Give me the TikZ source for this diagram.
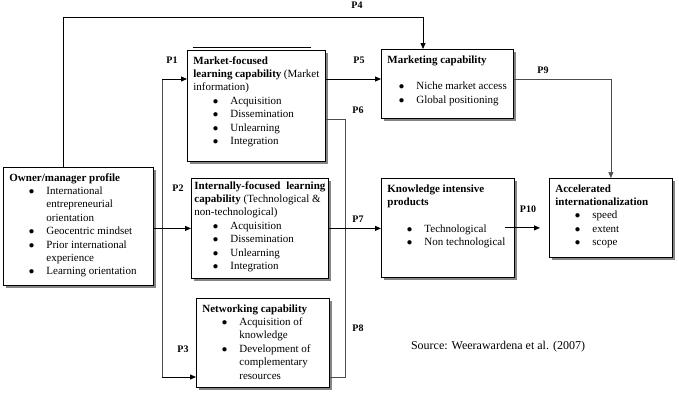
\documentclass[tikz,border=0pt]{standalone}
\usepackage{fontspec}
\setmainfont{Liberation Serif}
\usetikzlibrary{arrows.meta, shadows}

\newcommand{\bxfont}{\fontsize{11}{13.4}\selectfont}
\newcommand{\blkbody}[3]{\parbox[c][#2][t]{#1}{\bxfont\raggedright\hfuzz=5pt #3}}
\newcommand{\itm}[2][37pt]{\par\hangindent=#1\hangafter=0\noindent\llap{$\bullet$\hspace{12pt}}#2}

\begin{document}
\begin{tikzpicture}[x=1pt, y=-1pt, >={Triangle[length=6pt,width=5pt]}]
    \tikzset{
        blk/.style={draw, anchor=north west, inner sep=6pt, fill=white, line width=0.8pt,
            drop shadow={shadow xshift=2.5pt, shadow yshift=-2.5pt, fill=black!60, opacity=.8}},
        arr/.style={->, line width=0.9pt},
        lnk/.style={line width=0.6pt, draw=black!70},
        plab/.style={font=\fontsize{10}{12}\selectfont\bfseries, inner sep=0pt},
    }
    \useasboundingbox (0,0) rectangle (679,402);

    % boxes
    \node[blk] (own) at (3,167) {\blkbody{138pt}{106pt}{%
        \textbf{Owner/manager profile}
        \itm{International\newline entrepreneurial\newline orientation}
        \itm{Geocentric mindset}
        \itm{Prior international\newline experience}
        \itm{Learning orientation}}};
    \node[blk] (mfl) at (187,50) {\blkbody{126pt}{99pt}{%
        \textbf{Market-focused}\newline
        \textbf{learning~capability}~(Market\newline information)
        \itm{Acquisition}
        \itm{Dissemination}
        \itm{Unlearning}
        \itm{Integration}}};
    \node[blk, inner sep=3pt] (ifl) at (191,178) {\blkbody{131pt}{94pt}{%
        \textbf{Internally-focused\hfill learning}\newline
        \textbf{capability}~(Technological~\&\newline non-technological)
        \itm[36pt]{Acquisition}
        \itm[36pt]{Dissemination}
        \itm[36pt]{Unlearning}
        \itm[36pt]{Integration}}};
    \node[blk] (net) at (196,298) {\blkbody{121pt}{77pt}{%
        \textbf{Networking capability}
        \itm{Acquisition of\newline knowledge}
        \itm{Development of\newline complementary\newline resources}}};
    \node[blk] (mkt) at (381,49) {\blkbody{120pt}{57pt}{%
        \textbf{Marketing capability}\par\vspace{\baselineskip}
        \itm[29pt]{Niche~market~access}
        \itm[29pt]{Global positioning}}};
    \node[blk] (kip) at (381,178) {\blkbody{121pt}{87pt}{%
        \textbf{Knowledge intensive}\newline\textbf{products}\par\vspace{\baselineskip}
        \itm{Technological}
        \itm{Non technological}}};
    \node[blk] (acc) at (549,178) {\blkbody{111pt}{67pt}{%
        \textbf{Accelerated}\newline\textbf{internationalization}
        \itm{speed}
        \itm{extent}
        \itm{scope}}};
    \draw[line width=1.6pt] ([xshift=6pt, yshift=2.5pt]mfl.north west) -- ([xshift=-15pt, yshift=2.5pt]mfl.north east);

    % bends of the connectors
    \coordinate (t1) at (162,79);
    \coordinate (t3) at (162,377);
    \coordinate (v6) at (345,119);
    \coordinate (v8) at (345,377);
    \coordinate (k4a) at (63,17);
    \coordinate (k4b) at (423,17);

    % P4
    \draw[arr, line width=0.8pt] (own.north -| k4a) -- (k4a) -- (k4b) -- (mkt.north -| k4b);
    % P1 - P3
    \draw[lnk] (t1) -- (t3);
    \draw[arr] (t1) -- (mfl.west |- t1);
    \draw[arr] (own.east |- ifl.west) -- (ifl.west);
    \draw[arr] (t3) -- (net.west |- t3);
    % P5, P9
    \draw[arr] (mfl.east |- t1) -- (mkt.west |- t1);
    \draw[lnk, ->] (mkt.east |- t1) -| (acc.north);
    % P6, P8, P7
    \draw[lnk] (mfl.east |- v6) -- (v6) -- (v8) -- (net.east |- v8);
    \draw[arr] (ifl.east) -- (kip.west |- ifl.east);
    % P10
    \draw[arr, shorten <=-10pt, shorten >=9pt] (kip.east) -- (kip.east -| acc.west);

    % labels
    \node[plab] (p1) at (172,60) {P1};
    \node[plab] (p2) at (178,188) {P2};
    \node[plab] (p3) at (183,349) {P3};
    \node[plab] (p4) at (357,5) {P4};
    \node[plab] (p5) at (359,60) {P5};
    \node[plab] (p6) at (358,110) {P6};
    \node[plab] (p7) at (358,219) {P7};
    \node[plab] (p8) at (358,328) {P8};
    \node[plab] (p9) at (543,70) {P9};
    \node[plab] (p10) at (528,209) {P10};
    \node[font=\fontsize{12}{14}\selectfont, inner sep=0pt] (src) at (498,347) {Source: Weerawardena et al. (2007)};
\end{tikzpicture}
\end{document}
